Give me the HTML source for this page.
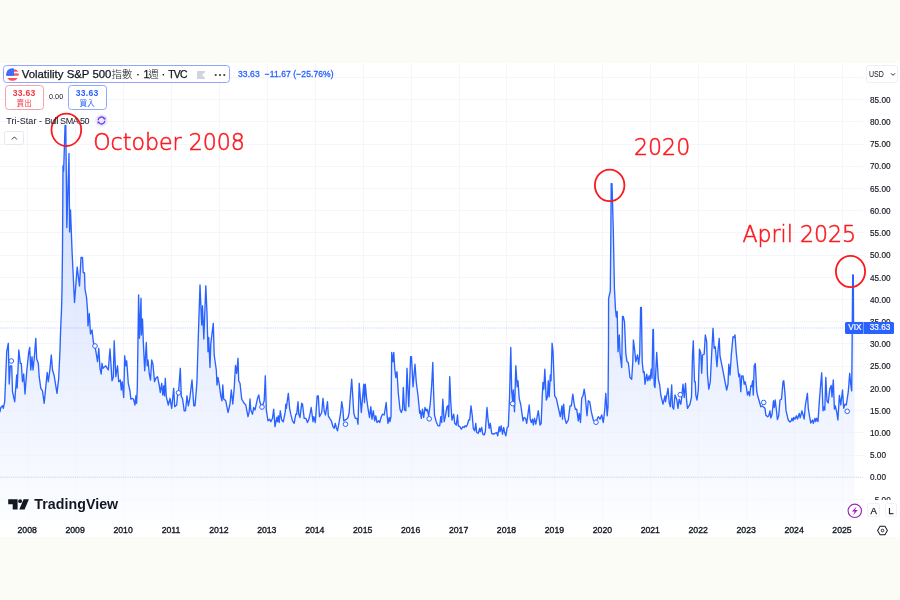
<!DOCTYPE html>
<html lang="zh-Hant">
<head>
<meta charset="utf-8">
<title>Volatility S&amp;P 500 Index - TradingView</title>
<style>
html,body{margin:0;padding:0;}
body{width:900px;height:600px;overflow:hidden;background:#fcfcf6;font-family:"Liberation Sans","Noto Sans CJK TC",sans-serif;color:#131722;position:relative;}
#pane{position:absolute;left:0;top:63px;width:900px;height:474px;background:#fff;overflow:hidden;}
#chart{position:absolute;left:0;top:-63px;width:900px;height:600px;}
.abs{position:absolute;}
.yl{position:absolute;left:870px;width:30px;height:10px;line-height:10px;font-size:8.2px;color:#131722;text-align:left;-webkit-text-stroke:0.15px #131722;}
.xl{position:absolute;top:524.5px;width:30px;height:11px;line-height:11px;font-size:8.7px;font-weight:400;-webkit-text-stroke:0.35px #131722;color:#131722;text-align:center;}
#title{position:absolute;left:2.7px;top:65px;width:225.5px;height:15.5px;border:1px solid #8fa6ff;border-radius:3.5px;background:#fff;}
#title .t{position:absolute;left:18px;top:0;height:15.5px;line-height:16px;font-size:11.4px;white-space:nowrap;color:#131722;-webkit-text-stroke:0.25px #131722;}
#title .cj{-webkit-text-stroke:0;font-weight:300;font-size:10.5px;}
#title .sp{font-size:11.4px;word-spacing:0.5px;}
#title .sp2{font-size:11.4px;word-spacing:-0.3px;}
#title .n1{font-size:10.6px;letter-spacing:-1.2px;}
#title .tv{font-size:10.4px;letter-spacing:-0.8px;}
.box{position:absolute;top:85px;width:37px;height:23px;border:1px solid;border-radius:3.5px;background:#fff;text-align:center;}
.box b{display:block;font-size:8.6px;line-height:9px;margin-top:3px;font-weight:700;letter-spacing:0.25px;}
.box span{display:block;font-size:7.6px;line-height:9px;margin-top:0.5px;}
.ann{position:absolute;color:#fb1a20;font-family:"DejaVu Sans","Liberation Sans",sans-serif;font-weight:200;font-size:22.1px;line-height:24px;white-space:nowrap;-webkit-text-stroke:0.55px #fb1a20;}
</style>
</head>
<body>
<div id="pane">
<svg id="chart" width="900" height="600" viewBox="0 0 900 600">
<defs>
<linearGradient id="ag" x1="0" y1="63" x2="0" y2="520" gradientUnits="userSpaceOnUse">
<stop offset="0" stop-color="#2962ff" stop-opacity="0.265"/>
<stop offset="1" stop-color="#2962ff" stop-opacity="0.012"/>
</linearGradient>
</defs>
<g stroke="#f5f6fb" stroke-width="1" shape-rendering="crispEdges">
<line x1="27.6" y1="63" x2="27.6" y2="520"/>
<line x1="75.5" y1="63" x2="75.5" y2="520"/>
<line x1="123.5" y1="63" x2="123.5" y2="520"/>
<line x1="171.4" y1="63" x2="171.4" y2="520"/>
<line x1="219.3" y1="63" x2="219.3" y2="520"/>
<line x1="267.2" y1="63" x2="267.2" y2="520"/>
<line x1="315.2" y1="63" x2="315.2" y2="520"/>
<line x1="363.1" y1="63" x2="363.1" y2="520"/>
<line x1="411.0" y1="63" x2="411.0" y2="520"/>
<line x1="459.0" y1="63" x2="459.0" y2="520"/>
<line x1="506.9" y1="63" x2="506.9" y2="520"/>
<line x1="554.8" y1="63" x2="554.8" y2="520"/>
<line x1="602.8" y1="63" x2="602.8" y2="520"/>
<line x1="650.7" y1="63" x2="650.7" y2="520"/>
<line x1="698.6" y1="63" x2="698.6" y2="520"/>
<line x1="746.6" y1="63" x2="746.6" y2="520"/>
<line x1="794.5" y1="63" x2="794.5" y2="520"/>
<line x1="842.4" y1="63" x2="842.4" y2="520"/>
<line x1="0" y1="499.4" x2="863" y2="499.4"/>
<line x1="0" y1="477.2" x2="863" y2="477.2"/>
<line x1="0" y1="455.0" x2="863" y2="455.0"/>
<line x1="0" y1="432.8" x2="863" y2="432.8"/>
<line x1="0" y1="410.6" x2="863" y2="410.6"/>
<line x1="0" y1="388.3" x2="863" y2="388.3"/>
<line x1="0" y1="366.1" x2="863" y2="366.1"/>
<line x1="0" y1="343.9" x2="863" y2="343.9"/>
<line x1="0" y1="321.7" x2="863" y2="321.7"/>
<line x1="0" y1="299.5" x2="863" y2="299.5"/>
<line x1="0" y1="277.3" x2="863" y2="277.3"/>
<line x1="0" y1="255.1" x2="863" y2="255.1"/>
<line x1="0" y1="232.8" x2="863" y2="232.8"/>
<line x1="0" y1="210.6" x2="863" y2="210.6"/>
<line x1="0" y1="188.4" x2="863" y2="188.4"/>
<line x1="0" y1="166.2" x2="863" y2="166.2"/>
<line x1="0" y1="144.0" x2="863" y2="144.0"/>
<line x1="0" y1="121.8" x2="863" y2="121.8"/>
<line x1="0" y1="99.5" x2="863" y2="99.5"/>
<line x1="0" y1="77.3" x2="863" y2="77.3"/>
</g>
<path d="M0.0 411.7 L0.8 407.5 L2.5 405.8 L3.3 408.3 L4.7 401.7 L6.7 351.7 L8.3 343.3 L9.2 384.0 L10.3 365.8 L11.7 365.8 L12.5 391.7 L14.7 401.7 L16.7 375.0 L17.2 388.0 L18.8 350.0 L20.3 363.3 L21.3 363.3 L22.5 381.7 L23.7 374.0 L25.0 394.0 L26.7 371.7 L28.7 352.5 L29.7 347.5 L30.8 370.0 L32.0 356.7 L33.0 370.0 L34.2 359.0 L35.8 338.3 L36.7 359.0 L38.3 363.3 L39.2 376.7 L40.8 388.3 L42.5 390.8 L44.2 403.3 L45.8 386.7 L47.2 372.5 L48.3 381.7 L50.0 369.0 L51.3 355.0 L52.5 370.0 L54.2 375.8 L57.0 393.3 L58.7 378.3 L60.0 350.0 L60.6 330.0 L61.5 310.0 L62.0 290.0 L62.5 250.0 L62.8 200.0 L63.0 166.0 L63.6 171.0 L65.1 125.3 L65.8 125.3 L66.8 227.5 L69.0 153.5 L69.6 232.0 L70.5 210.0 L72.0 250.0 L74.5 302.5 L77.2 267.0 L79.5 286.0 L81.0 257.5 L82.5 257.5 L83.2 272.5 L84.5 273.0 L85.0 289.0 L86.5 297.0 L87.5 310.0 L88.0 326.0 L89.3 313.5 L90.5 334.0 L92.0 330.0 L93.3 341.5 L93.9 344.0 L95.0 346.0 L97.5 361.7 L98.8 348.3 L100.0 368.3 L101.2 374.0 L102.0 363.3 L103.0 368.3 L105.8 365.8 L108.3 370.0 L110.0 349.0 L112.0 380.8 L113.3 377.5 L114.2 340.8 L115.8 376.7 L117.5 365.8 L118.7 381.7 L120.3 380.0 L121.3 390.0 L122.2 381.7 L123.7 397.5 L124.7 355.8 L125.8 365.8 L126.7 360.8 L128.3 383.3 L130.0 391.0 L130.8 399.0 L132.5 398.5 L133.5 399.0 L135.0 405.0 L135.9 395.8 L136.6 403.3 L137.3 388.0 L138.0 340.0 L138.6 295.0 L139.5 338.3 L141.0 298.3 L141.4 335.0 L142.5 319.0 L143.3 341.7 L144.7 370.8 L146.3 342.5 L147.2 365.8 L148.0 360.0 L149.2 373.3 L150.5 380.0 L151.7 360.0 L153.0 364.5 L154.5 381.7 L155.8 378.3 L157.5 376.7 L159.2 385.0 L160.3 392.5 L161.7 383.3 L162.8 395.0 L163.8 385.8 L164.5 395.8 L165.3 378.3 L166.3 396.7 L168.3 405.0 L170.0 398.3 L171.7 408.3 L173.7 388.3 L174.7 406.7 L176.7 405.0 L177.5 395.8 L178.5 392.8 L180.3 368.3 L181.3 396.7 L182.5 398.3 L184.2 410.8 L185.5 410.8 L187.0 395.8 L188.3 405.8 L189.7 399.0 L192.0 380.0 L193.8 405.8 L195.0 405.8 L196.3 390.8 L197.0 380.0 L198.3 336.7 L200.0 285.0 L201.7 325.0 L202.5 305.8 L203.8 339.0 L205.8 285.8 L207.0 313.3 L208.0 351.7 L208.7 337.5 L210.0 367.5 L210.8 343.3 L213.3 323.3 L214.2 355.0 L216.3 370.0 L217.0 385.0 L218.0 377.5 L219.2 384.0 L220.8 395.8 L222.0 400.8 L222.8 385.0 L223.7 399.0 L225.8 400.8 L228.0 412.5 L230.0 404.0 L231.3 390.0 L232.8 404.0 L234.2 388.3 L235.5 365.5 L236.7 373.3 L238.0 358.3 L238.7 380.8 L240.0 383.3 L241.7 399.0 L244.2 403.3 L245.8 405.0 L248.0 416.7 L249.2 411.7 L250.0 399.0 L250.8 410.0 L252.5 414.2 L253.7 407.5 L255.0 410.0 L257.5 398.3 L258.8 395.0 L260.0 402.5 L262.0 407.0 L264.2 400.8 L265.3 375.8 L266.3 410.0 L268.0 420.8 L269.7 419.2 L270.8 421.7 L272.5 418.3 L273.7 409.2 L275.0 426.7 L276.7 417.5 L277.5 421.7 L278.3 415.8 L279.2 422.5 L280.3 410.8 L281.7 420.0 L283.3 421.7 L285.3 411.7 L285.8 404.2 L286.3 408.3 L288.3 393.3 L289.7 409.2 L290.8 414.2 L292.5 420.8 L294.2 423.3 L295.8 414.2 L296.7 414.2 L298.0 401.7 L298.8 414.2 L300.0 417.5 L301.7 403.3 L302.5 404.2 L304.2 418.3 L305.8 418.3 L307.5 422.5 L309.2 418.3 L311.2 407.5 L313.0 421.7 L313.8 416.7 L315.3 422.5 L317.2 395.8 L318.3 395.8 L319.5 416.7 L321.7 412.5 L323.0 398.3 L324.2 410.8 L325.5 415.0 L327.5 401.7 L328.3 415.8 L329.7 418.3 L331.3 420.8 L333.0 426.7 L334.2 428.3 L335.3 423.3 L336.3 427.5 L337.5 430.8 L339.2 421.7 L340.8 411.7 L341.7 401.7 L342.8 408.3 L343.7 420.8 L346.7 419.2 L348.0 417.5 L349.2 412.5 L350.3 396.7 L351.7 379.2 L352.5 391.7 L353.8 413.3 L355.3 418.3 L357.0 418.3 L358.0 424.2 L359.2 383.3 L360.0 393.3 L361.3 412.5 L362.5 398.3 L363.8 384.2 L364.5 402.5 L365.3 384.2 L366.7 399.2 L368.0 408.3 L369.5 417.5 L370.8 406.7 L372.0 419.2 L373.3 410.8 L374.7 420.8 L375.8 415.8 L377.0 422.5 L378.7 420.8 L379.7 422.5 L381.3 416.7 L382.5 414.2 L384.2 415.0 L386.2 402.5 L387.2 416.7 L388.0 423.3 L389.2 417.5 L390.0 421.7 L391.0 416.7 L391.7 352.5 L393.0 361.7 L393.8 352.5 L394.7 368.3 L395.8 377.5 L397.0 371.7 L398.3 393.3 L400.0 409.2 L401.3 412.5 L402.5 409.2 L403.3 387.5 L404.5 410.0 L405.8 410.8 L407.0 368.3 L408.0 391.7 L408.8 406.7 L410.6 356.7 L411.5 356.7 L413.0 386.7 L415.0 364.2 L416.3 382.5 L418.0 395.5 L419.7 413.3 L420.3 410.8 L421.3 418.3 L422.5 409.2 L423.7 417.5 L425.0 407.5 L426.2 410.8 L427.2 409.2 L428.7 415.8 L430.3 403.3 L431.7 385.0 L432.8 362.5 L433.7 395.0 L434.5 415.0 L436.2 421.7 L438.0 425.8 L439.7 425.8 L440.8 416.7 L441.7 422.5 L442.8 399.2 L444.2 421.7 L445.3 416.7 L447.0 406.7 L448.0 405.8 L448.7 416.7 L449.7 376.7 L450.8 402.5 L452.0 420.0 L453.7 414.2 L454.7 423.3 L456.3 425.0 L457.5 415.0 L458.3 425.8 L460.0 426.7 L461.3 429.2 L463.0 426.7 L464.2 427.5 L465.0 425.8 L466.3 426.7 L467.5 424.2 L468.7 420.0 L469.7 420.0 L471.0 405.8 L472.2 415.0 L473.3 428.3 L474.7 430.8 L475.8 423.3 L476.7 432.5 L478.3 433.3 L479.7 428.3 L480.3 431.7 L481.7 427.5 L482.8 434.2 L484.2 435.0 L485.3 431.7 L487.0 407.5 L488.0 419.2 L489.2 428.3 L490.3 423.3 L491.7 433.3 L493.3 434.2 L495.0 433.3 L496.7 432.5 L497.7 435.8 L499.2 426.7 L500.0 431.7 L501.2 425.8 L502.5 434.2 L503.7 427.5 L504.5 431.7 L505.8 435.8 L507.2 427.5 L508.3 426.7 L509.5 398.3 L510.8 347.5 L511.7 391.7 L512.6 401.0 L513.3 390.0 L514.5 411.7 L515.8 365.8 L517.2 386.7 L518.0 380.8 L519.2 398.3 L520.8 405.0 L523.0 420.8 L524.2 417.5 L525.5 418.3 L526.7 423.3 L529.2 405.0 L530.3 419.2 L531.3 422.5 L532.5 419.2 L533.3 425.0 L534.5 418.3 L535.8 424.2 L537.0 417.5 L538.3 410.8 L540.0 425.0 L541.2 423.3 L542.2 396.7 L543.0 382.5 L543.8 389.2 L544.8 369.2 L546.3 400.0 L547.5 396.7 L548.3 380.8 L549.2 396.7 L550.3 375.0 L551.0 380.8 L552.1 343.3 L553.0 351.0 L553.8 373.3 L554.7 395.8 L556.3 398.3 L558.3 407.5 L560.3 416.7 L562.0 405.8 L562.5 419.2 L563.7 404.2 L564.7 417.5 L566.3 423.3 L568.3 420.0 L570.0 405.8 L571.3 405.8 L572.8 394.2 L574.2 404.2 L575.3 409.2 L576.7 409.2 L578.3 420.8 L579.2 413.3 L580.5 422.5 L581.7 398.3 L583.0 395.8 L584.2 389.2 L585.3 396.7 L587.0 415.8 L588.3 400.8 L589.7 401.7 L591.3 411.7 L593.3 420.0 L596.0 422.2 L597.5 418.3 L598.3 416.7 L600.0 419.2 L601.7 415.0 L603.3 422.5 L604.7 410.0 L605.8 393.3 L607.2 415.8 L608.0 406.7 L608.5 345.0 L608.6 298.5 L610.3 291.0 L610.8 240.0 L611.2 183.6 L612.0 183.6 L613.3 230.0 L614.4 288.0 L615.5 309.5 L616.3 317.0 L617.2 311.5 L618.0 351.7 L619.3 335.0 L620.0 353.3 L621.7 367.5 L622.5 316.5 L623.3 316.5 L624.5 322.0 L625.8 353.3 L627.0 361.7 L628.3 362.5 L630.0 377.5 L631.7 379.2 L632.8 361.7 L633.4 340.0 L634.5 348.3 L635.8 361.7 L637.5 355.0 L638.7 364.2 L639.7 354.2 L640.6 307.5 L641.4 307.5 L642.2 361.7 L643.3 372.5 L644.2 371.7 L645.0 384.2 L646.7 374.2 L647.8 380.8 L649.2 375.8 L650.0 380.0 L651.2 369.2 L652.0 378.3 L652.9 329.5 L653.4 329.5 L654.2 385.0 L655.0 387.5 L656.7 352.5 L658.3 379.2 L659.7 385.0 L660.8 395.0 L663.0 404.2 L665.0 395.8 L665.5 401.7 L668.0 388.3 L669.2 402.5 L670.3 406.7 L671.7 385.0 L672.5 406.7 L673.7 409.2 L675.0 395.0 L676.7 399.2 L678.0 408.3 L679.2 399.2 L680.8 404.2 L681.7 397.5 L683.0 384.2 L684.2 397.5 L685.5 383.3 L686.7 401.7 L687.5 408.3 L690.0 404.2 L691.5 397.0 L692.5 355.0 L693.3 340.8 L694.5 381.7 L695.3 381.7 L695.8 395.0 L697.0 400.0 L698.3 390.0 L699.5 349.2 L700.8 353.3 L701.7 373.3 L702.5 355.0 L704.2 354.2 L705.3 335.0 L706.7 341.7 L707.5 375.0 L708.8 389.2 L710.3 381.7 L711.7 353.3 L713.0 328.3 L714.2 348.3 L715.3 346.7 L717.0 366.7 L718.0 350.8 L719.2 338.3 L720.0 355.8 L722.5 368.3 L725.0 381.7 L726.7 390.0 L728.0 384.2 L728.8 364.2 L730.0 375.0 L731.3 355.0 L733.0 336.7 L734.0 337.5 L735.0 335.0 L736.3 353.3 L738.0 369.2 L738.8 376.7 L739.7 374.2 L740.8 391.7 L741.7 375.8 L743.0 375.8 L744.2 384.2 L745.0 381.7 L746.3 386.7 L747.5 395.0 L748.7 391.7 L749.7 395.8 L750.8 385.8 L751.7 386.5 L752.6 380.8 L753.3 395.0 L754.2 365.8 L755.3 363.5 L756.7 391.0 L757.5 395.0 L759.2 401.0 L760.8 406.7 L762.2 406.0 L765.0 408.3 L765.8 415.0 L767.5 416.7 L768.7 416.0 L770.0 411.0 L770.8 418.0 L772.1 414.0 L773.5 400.8 L774.3 407.5 L775.2 400.0 L776.5 411.0 L777.4 419.6 L778.7 415.8 L780.0 400.0 L781.5 399.2 L783.0 381.7 L783.8 380.8 L785.0 394.0 L786.0 410.4 L788.2 420.0 L790.0 422.0 L791.4 420.5 L792.0 418.3 L793.0 420.8 L793.8 417.5 L795.0 419.2 L796.4 415.8 L797.5 419.0 L799.2 413.5 L800.2 417.8 L801.9 411.0 L803.0 414.5 L804.2 419.0 L805.4 405.0 L807.4 393.3 L808.3 408.5 L809.6 416.7 L810.8 423.0 L812.5 420.0 L813.3 423.3 L815.0 418.3 L815.8 421.7 L816.7 418.3 L818.0 421.5 L819.2 403.3 L820.5 386.5 L821.7 372.8 L823.0 410.8 L824.2 406.7 L824.8 410.0 L825.8 377.5 L827.0 401.0 L828.2 403.0 L829.8 389.0 L831.2 385.5 L832.0 397.0 L833.3 380.0 L834.4 409.0 L835.3 405.8 L836.7 412.0 L837.9 420.0 L839.4 395.4 L840.8 405.0 L842.5 390.0 L843.7 408.3 L845.0 404.2 L846.3 405.0 L848.3 391.7 L849.7 373.3 L850.8 385.0 L851.7 390.8 L852.7 275.0 L853.3 275.0 L853.6 328.0 L854.5 328 L854.5 520 L0 520 Z" fill="#fff" fill-opacity="0.55" stroke="none"/>
<path d="M0.0 411.7 L0.8 407.5 L2.5 405.8 L3.3 408.3 L4.7 401.7 L6.7 351.7 L8.3 343.3 L9.2 384.0 L10.3 365.8 L11.7 365.8 L12.5 391.7 L14.7 401.7 L16.7 375.0 L17.2 388.0 L18.8 350.0 L20.3 363.3 L21.3 363.3 L22.5 381.7 L23.7 374.0 L25.0 394.0 L26.7 371.7 L28.7 352.5 L29.7 347.5 L30.8 370.0 L32.0 356.7 L33.0 370.0 L34.2 359.0 L35.8 338.3 L36.7 359.0 L38.3 363.3 L39.2 376.7 L40.8 388.3 L42.5 390.8 L44.2 403.3 L45.8 386.7 L47.2 372.5 L48.3 381.7 L50.0 369.0 L51.3 355.0 L52.5 370.0 L54.2 375.8 L57.0 393.3 L58.7 378.3 L60.0 350.0 L60.6 330.0 L61.5 310.0 L62.0 290.0 L62.5 250.0 L62.8 200.0 L63.0 166.0 L63.6 171.0 L65.1 125.3 L65.8 125.3 L66.8 227.5 L69.0 153.5 L69.6 232.0 L70.5 210.0 L72.0 250.0 L74.5 302.5 L77.2 267.0 L79.5 286.0 L81.0 257.5 L82.5 257.5 L83.2 272.5 L84.5 273.0 L85.0 289.0 L86.5 297.0 L87.5 310.0 L88.0 326.0 L89.3 313.5 L90.5 334.0 L92.0 330.0 L93.3 341.5 L93.9 344.0 L95.0 346.0 L97.5 361.7 L98.8 348.3 L100.0 368.3 L101.2 374.0 L102.0 363.3 L103.0 368.3 L105.8 365.8 L108.3 370.0 L110.0 349.0 L112.0 380.8 L113.3 377.5 L114.2 340.8 L115.8 376.7 L117.5 365.8 L118.7 381.7 L120.3 380.0 L121.3 390.0 L122.2 381.7 L123.7 397.5 L124.7 355.8 L125.8 365.8 L126.7 360.8 L128.3 383.3 L130.0 391.0 L130.8 399.0 L132.5 398.5 L133.5 399.0 L135.0 405.0 L135.9 395.8 L136.6 403.3 L137.3 388.0 L138.0 340.0 L138.6 295.0 L139.5 338.3 L141.0 298.3 L141.4 335.0 L142.5 319.0 L143.3 341.7 L144.7 370.8 L146.3 342.5 L147.2 365.8 L148.0 360.0 L149.2 373.3 L150.5 380.0 L151.7 360.0 L153.0 364.5 L154.5 381.7 L155.8 378.3 L157.5 376.7 L159.2 385.0 L160.3 392.5 L161.7 383.3 L162.8 395.0 L163.8 385.8 L164.5 395.8 L165.3 378.3 L166.3 396.7 L168.3 405.0 L170.0 398.3 L171.7 408.3 L173.7 388.3 L174.7 406.7 L176.7 405.0 L177.5 395.8 L178.5 392.8 L180.3 368.3 L181.3 396.7 L182.5 398.3 L184.2 410.8 L185.5 410.8 L187.0 395.8 L188.3 405.8 L189.7 399.0 L192.0 380.0 L193.8 405.8 L195.0 405.8 L196.3 390.8 L197.0 380.0 L198.3 336.7 L200.0 285.0 L201.7 325.0 L202.5 305.8 L203.8 339.0 L205.8 285.8 L207.0 313.3 L208.0 351.7 L208.7 337.5 L210.0 367.5 L210.8 343.3 L213.3 323.3 L214.2 355.0 L216.3 370.0 L217.0 385.0 L218.0 377.5 L219.2 384.0 L220.8 395.8 L222.0 400.8 L222.8 385.0 L223.7 399.0 L225.8 400.8 L228.0 412.5 L230.0 404.0 L231.3 390.0 L232.8 404.0 L234.2 388.3 L235.5 365.5 L236.7 373.3 L238.0 358.3 L238.7 380.8 L240.0 383.3 L241.7 399.0 L244.2 403.3 L245.8 405.0 L248.0 416.7 L249.2 411.7 L250.0 399.0 L250.8 410.0 L252.5 414.2 L253.7 407.5 L255.0 410.0 L257.5 398.3 L258.8 395.0 L260.0 402.5 L262.0 407.0 L264.2 400.8 L265.3 375.8 L266.3 410.0 L268.0 420.8 L269.7 419.2 L270.8 421.7 L272.5 418.3 L273.7 409.2 L275.0 426.7 L276.7 417.5 L277.5 421.7 L278.3 415.8 L279.2 422.5 L280.3 410.8 L281.7 420.0 L283.3 421.7 L285.3 411.7 L285.8 404.2 L286.3 408.3 L288.3 393.3 L289.7 409.2 L290.8 414.2 L292.5 420.8 L294.2 423.3 L295.8 414.2 L296.7 414.2 L298.0 401.7 L298.8 414.2 L300.0 417.5 L301.7 403.3 L302.5 404.2 L304.2 418.3 L305.8 418.3 L307.5 422.5 L309.2 418.3 L311.2 407.5 L313.0 421.7 L313.8 416.7 L315.3 422.5 L317.2 395.8 L318.3 395.8 L319.5 416.7 L321.7 412.5 L323.0 398.3 L324.2 410.8 L325.5 415.0 L327.5 401.7 L328.3 415.8 L329.7 418.3 L331.3 420.8 L333.0 426.7 L334.2 428.3 L335.3 423.3 L336.3 427.5 L337.5 430.8 L339.2 421.7 L340.8 411.7 L341.7 401.7 L342.8 408.3 L343.7 420.8 L346.7 419.2 L348.0 417.5 L349.2 412.5 L350.3 396.7 L351.7 379.2 L352.5 391.7 L353.8 413.3 L355.3 418.3 L357.0 418.3 L358.0 424.2 L359.2 383.3 L360.0 393.3 L361.3 412.5 L362.5 398.3 L363.8 384.2 L364.5 402.5 L365.3 384.2 L366.7 399.2 L368.0 408.3 L369.5 417.5 L370.8 406.7 L372.0 419.2 L373.3 410.8 L374.7 420.8 L375.8 415.8 L377.0 422.5 L378.7 420.8 L379.7 422.5 L381.3 416.7 L382.5 414.2 L384.2 415.0 L386.2 402.5 L387.2 416.7 L388.0 423.3 L389.2 417.5 L390.0 421.7 L391.0 416.7 L391.7 352.5 L393.0 361.7 L393.8 352.5 L394.7 368.3 L395.8 377.5 L397.0 371.7 L398.3 393.3 L400.0 409.2 L401.3 412.5 L402.5 409.2 L403.3 387.5 L404.5 410.0 L405.8 410.8 L407.0 368.3 L408.0 391.7 L408.8 406.7 L410.6 356.7 L411.5 356.7 L413.0 386.7 L415.0 364.2 L416.3 382.5 L418.0 395.5 L419.7 413.3 L420.3 410.8 L421.3 418.3 L422.5 409.2 L423.7 417.5 L425.0 407.5 L426.2 410.8 L427.2 409.2 L428.7 415.8 L430.3 403.3 L431.7 385.0 L432.8 362.5 L433.7 395.0 L434.5 415.0 L436.2 421.7 L438.0 425.8 L439.7 425.8 L440.8 416.7 L441.7 422.5 L442.8 399.2 L444.2 421.7 L445.3 416.7 L447.0 406.7 L448.0 405.8 L448.7 416.7 L449.7 376.7 L450.8 402.5 L452.0 420.0 L453.7 414.2 L454.7 423.3 L456.3 425.0 L457.5 415.0 L458.3 425.8 L460.0 426.7 L461.3 429.2 L463.0 426.7 L464.2 427.5 L465.0 425.8 L466.3 426.7 L467.5 424.2 L468.7 420.0 L469.7 420.0 L471.0 405.8 L472.2 415.0 L473.3 428.3 L474.7 430.8 L475.8 423.3 L476.7 432.5 L478.3 433.3 L479.7 428.3 L480.3 431.7 L481.7 427.5 L482.8 434.2 L484.2 435.0 L485.3 431.7 L487.0 407.5 L488.0 419.2 L489.2 428.3 L490.3 423.3 L491.7 433.3 L493.3 434.2 L495.0 433.3 L496.7 432.5 L497.7 435.8 L499.2 426.7 L500.0 431.7 L501.2 425.8 L502.5 434.2 L503.7 427.5 L504.5 431.7 L505.8 435.8 L507.2 427.5 L508.3 426.7 L509.5 398.3 L510.8 347.5 L511.7 391.7 L512.6 401.0 L513.3 390.0 L514.5 411.7 L515.8 365.8 L517.2 386.7 L518.0 380.8 L519.2 398.3 L520.8 405.0 L523.0 420.8 L524.2 417.5 L525.5 418.3 L526.7 423.3 L529.2 405.0 L530.3 419.2 L531.3 422.5 L532.5 419.2 L533.3 425.0 L534.5 418.3 L535.8 424.2 L537.0 417.5 L538.3 410.8 L540.0 425.0 L541.2 423.3 L542.2 396.7 L543.0 382.5 L543.8 389.2 L544.8 369.2 L546.3 400.0 L547.5 396.7 L548.3 380.8 L549.2 396.7 L550.3 375.0 L551.0 380.8 L552.1 343.3 L553.0 351.0 L553.8 373.3 L554.7 395.8 L556.3 398.3 L558.3 407.5 L560.3 416.7 L562.0 405.8 L562.5 419.2 L563.7 404.2 L564.7 417.5 L566.3 423.3 L568.3 420.0 L570.0 405.8 L571.3 405.8 L572.8 394.2 L574.2 404.2 L575.3 409.2 L576.7 409.2 L578.3 420.8 L579.2 413.3 L580.5 422.5 L581.7 398.3 L583.0 395.8 L584.2 389.2 L585.3 396.7 L587.0 415.8 L588.3 400.8 L589.7 401.7 L591.3 411.7 L593.3 420.0 L596.0 422.2 L597.5 418.3 L598.3 416.7 L600.0 419.2 L601.7 415.0 L603.3 422.5 L604.7 410.0 L605.8 393.3 L607.2 415.8 L608.0 406.7 L608.5 345.0 L608.6 298.5 L610.3 291.0 L610.8 240.0 L611.2 183.6 L612.0 183.6 L613.3 230.0 L614.4 288.0 L615.5 309.5 L616.3 317.0 L617.2 311.5 L618.0 351.7 L619.3 335.0 L620.0 353.3 L621.7 367.5 L622.5 316.5 L623.3 316.5 L624.5 322.0 L625.8 353.3 L627.0 361.7 L628.3 362.5 L630.0 377.5 L631.7 379.2 L632.8 361.7 L633.4 340.0 L634.5 348.3 L635.8 361.7 L637.5 355.0 L638.7 364.2 L639.7 354.2 L640.6 307.5 L641.4 307.5 L642.2 361.7 L643.3 372.5 L644.2 371.7 L645.0 384.2 L646.7 374.2 L647.8 380.8 L649.2 375.8 L650.0 380.0 L651.2 369.2 L652.0 378.3 L652.9 329.5 L653.4 329.5 L654.2 385.0 L655.0 387.5 L656.7 352.5 L658.3 379.2 L659.7 385.0 L660.8 395.0 L663.0 404.2 L665.0 395.8 L665.5 401.7 L668.0 388.3 L669.2 402.5 L670.3 406.7 L671.7 385.0 L672.5 406.7 L673.7 409.2 L675.0 395.0 L676.7 399.2 L678.0 408.3 L679.2 399.2 L680.8 404.2 L681.7 397.5 L683.0 384.2 L684.2 397.5 L685.5 383.3 L686.7 401.7 L687.5 408.3 L690.0 404.2 L691.5 397.0 L692.5 355.0 L693.3 340.8 L694.5 381.7 L695.3 381.7 L695.8 395.0 L697.0 400.0 L698.3 390.0 L699.5 349.2 L700.8 353.3 L701.7 373.3 L702.5 355.0 L704.2 354.2 L705.3 335.0 L706.7 341.7 L707.5 375.0 L708.8 389.2 L710.3 381.7 L711.7 353.3 L713.0 328.3 L714.2 348.3 L715.3 346.7 L717.0 366.7 L718.0 350.8 L719.2 338.3 L720.0 355.8 L722.5 368.3 L725.0 381.7 L726.7 390.0 L728.0 384.2 L728.8 364.2 L730.0 375.0 L731.3 355.0 L733.0 336.7 L734.0 337.5 L735.0 335.0 L736.3 353.3 L738.0 369.2 L738.8 376.7 L739.7 374.2 L740.8 391.7 L741.7 375.8 L743.0 375.8 L744.2 384.2 L745.0 381.7 L746.3 386.7 L747.5 395.0 L748.7 391.7 L749.7 395.8 L750.8 385.8 L751.7 386.5 L752.6 380.8 L753.3 395.0 L754.2 365.8 L755.3 363.5 L756.7 391.0 L757.5 395.0 L759.2 401.0 L760.8 406.7 L762.2 406.0 L765.0 408.3 L765.8 415.0 L767.5 416.7 L768.7 416.0 L770.0 411.0 L770.8 418.0 L772.1 414.0 L773.5 400.8 L774.3 407.5 L775.2 400.0 L776.5 411.0 L777.4 419.6 L778.7 415.8 L780.0 400.0 L781.5 399.2 L783.0 381.7 L783.8 380.8 L785.0 394.0 L786.0 410.4 L788.2 420.0 L790.0 422.0 L791.4 420.5 L792.0 418.3 L793.0 420.8 L793.8 417.5 L795.0 419.2 L796.4 415.8 L797.5 419.0 L799.2 413.5 L800.2 417.8 L801.9 411.0 L803.0 414.5 L804.2 419.0 L805.4 405.0 L807.4 393.3 L808.3 408.5 L809.6 416.7 L810.8 423.0 L812.5 420.0 L813.3 423.3 L815.0 418.3 L815.8 421.7 L816.7 418.3 L818.0 421.5 L819.2 403.3 L820.5 386.5 L821.7 372.8 L823.0 410.8 L824.2 406.7 L824.8 410.0 L825.8 377.5 L827.0 401.0 L828.2 403.0 L829.8 389.0 L831.2 385.5 L832.0 397.0 L833.3 380.0 L834.4 409.0 L835.3 405.8 L836.7 412.0 L837.9 420.0 L839.4 395.4 L840.8 405.0 L842.5 390.0 L843.7 408.3 L845.0 404.2 L846.3 405.0 L848.3 391.7 L849.7 373.3 L850.8 385.0 L851.7 390.8 L852.7 275.0 L853.3 275.0 L853.6 328.0 L854.5 328 L854.5 520 L0 520 Z" fill="url(#ag)" stroke="none"/>
<line x1="0" y1="328" x2="845" y2="328" stroke="#2962ff" stroke-opacity="0.32" stroke-width="1" stroke-dasharray="1 1.2"/>
<line x1="0" y1="477.2" x2="863" y2="477.2" stroke="#9fb0ea" stroke-opacity="0.55" stroke-width="1" stroke-dasharray="1 1.2"/>
<path d="M0.0 411.7 L0.8 407.5 L2.5 405.8 L3.3 408.3 L4.7 401.7 L6.7 351.7 L8.3 343.3 L9.2 384.0 L10.3 365.8 L11.7 365.8 L12.5 391.7 L14.7 401.7 L16.7 375.0 L17.2 388.0 L18.8 350.0 L20.3 363.3 L21.3 363.3 L22.5 381.7 L23.7 374.0 L25.0 394.0 L26.7 371.7 L28.7 352.5 L29.7 347.5 L30.8 370.0 L32.0 356.7 L33.0 370.0 L34.2 359.0 L35.8 338.3 L36.7 359.0 L38.3 363.3 L39.2 376.7 L40.8 388.3 L42.5 390.8 L44.2 403.3 L45.8 386.7 L47.2 372.5 L48.3 381.7 L50.0 369.0 L51.3 355.0 L52.5 370.0 L54.2 375.8 L57.0 393.3 L58.7 378.3 L60.0 350.0 L60.6 330.0 L61.5 310.0 L62.0 290.0 L62.5 250.0 L62.8 200.0 L63.0 166.0 L63.6 171.0 L65.1 125.3 L65.8 125.3 L66.8 227.5 L69.0 153.5 L69.6 232.0 L70.5 210.0 L72.0 250.0 L74.5 302.5 L77.2 267.0 L79.5 286.0 L81.0 257.5 L82.5 257.5 L83.2 272.5 L84.5 273.0 L85.0 289.0 L86.5 297.0 L87.5 310.0 L88.0 326.0 L89.3 313.5 L90.5 334.0 L92.0 330.0 L93.3 341.5 L93.9 344.0 L95.0 346.0 L97.5 361.7 L98.8 348.3 L100.0 368.3 L101.2 374.0 L102.0 363.3 L103.0 368.3 L105.8 365.8 L108.3 370.0 L110.0 349.0 L112.0 380.8 L113.3 377.5 L114.2 340.8 L115.8 376.7 L117.5 365.8 L118.7 381.7 L120.3 380.0 L121.3 390.0 L122.2 381.7 L123.7 397.5 L124.7 355.8 L125.8 365.8 L126.7 360.8 L128.3 383.3 L130.0 391.0 L130.8 399.0 L132.5 398.5 L133.5 399.0 L135.0 405.0 L135.9 395.8 L136.6 403.3 L137.3 388.0 L138.0 340.0 L138.6 295.0 L139.5 338.3 L141.0 298.3 L141.4 335.0 L142.5 319.0 L143.3 341.7 L144.7 370.8 L146.3 342.5 L147.2 365.8 L148.0 360.0 L149.2 373.3 L150.5 380.0 L151.7 360.0 L153.0 364.5 L154.5 381.7 L155.8 378.3 L157.5 376.7 L159.2 385.0 L160.3 392.5 L161.7 383.3 L162.8 395.0 L163.8 385.8 L164.5 395.8 L165.3 378.3 L166.3 396.7 L168.3 405.0 L170.0 398.3 L171.7 408.3 L173.7 388.3 L174.7 406.7 L176.7 405.0 L177.5 395.8 L178.5 392.8 L180.3 368.3 L181.3 396.7 L182.5 398.3 L184.2 410.8 L185.5 410.8 L187.0 395.8 L188.3 405.8 L189.7 399.0 L192.0 380.0 L193.8 405.8 L195.0 405.8 L196.3 390.8 L197.0 380.0 L198.3 336.7 L200.0 285.0 L201.7 325.0 L202.5 305.8 L203.8 339.0 L205.8 285.8 L207.0 313.3 L208.0 351.7 L208.7 337.5 L210.0 367.5 L210.8 343.3 L213.3 323.3 L214.2 355.0 L216.3 370.0 L217.0 385.0 L218.0 377.5 L219.2 384.0 L220.8 395.8 L222.0 400.8 L222.8 385.0 L223.7 399.0 L225.8 400.8 L228.0 412.5 L230.0 404.0 L231.3 390.0 L232.8 404.0 L234.2 388.3 L235.5 365.5 L236.7 373.3 L238.0 358.3 L238.7 380.8 L240.0 383.3 L241.7 399.0 L244.2 403.3 L245.8 405.0 L248.0 416.7 L249.2 411.7 L250.0 399.0 L250.8 410.0 L252.5 414.2 L253.7 407.5 L255.0 410.0 L257.5 398.3 L258.8 395.0 L260.0 402.5 L262.0 407.0 L264.2 400.8 L265.3 375.8 L266.3 410.0 L268.0 420.8 L269.7 419.2 L270.8 421.7 L272.5 418.3 L273.7 409.2 L275.0 426.7 L276.7 417.5 L277.5 421.7 L278.3 415.8 L279.2 422.5 L280.3 410.8 L281.7 420.0 L283.3 421.7 L285.3 411.7 L285.8 404.2 L286.3 408.3 L288.3 393.3 L289.7 409.2 L290.8 414.2 L292.5 420.8 L294.2 423.3 L295.8 414.2 L296.7 414.2 L298.0 401.7 L298.8 414.2 L300.0 417.5 L301.7 403.3 L302.5 404.2 L304.2 418.3 L305.8 418.3 L307.5 422.5 L309.2 418.3 L311.2 407.5 L313.0 421.7 L313.8 416.7 L315.3 422.5 L317.2 395.8 L318.3 395.8 L319.5 416.7 L321.7 412.5 L323.0 398.3 L324.2 410.8 L325.5 415.0 L327.5 401.7 L328.3 415.8 L329.7 418.3 L331.3 420.8 L333.0 426.7 L334.2 428.3 L335.3 423.3 L336.3 427.5 L337.5 430.8 L339.2 421.7 L340.8 411.7 L341.7 401.7 L342.8 408.3 L343.7 420.8 L346.7 419.2 L348.0 417.5 L349.2 412.5 L350.3 396.7 L351.7 379.2 L352.5 391.7 L353.8 413.3 L355.3 418.3 L357.0 418.3 L358.0 424.2 L359.2 383.3 L360.0 393.3 L361.3 412.5 L362.5 398.3 L363.8 384.2 L364.5 402.5 L365.3 384.2 L366.7 399.2 L368.0 408.3 L369.5 417.5 L370.8 406.7 L372.0 419.2 L373.3 410.8 L374.7 420.8 L375.8 415.8 L377.0 422.5 L378.7 420.8 L379.7 422.5 L381.3 416.7 L382.5 414.2 L384.2 415.0 L386.2 402.5 L387.2 416.7 L388.0 423.3 L389.2 417.5 L390.0 421.7 L391.0 416.7 L391.7 352.5 L393.0 361.7 L393.8 352.5 L394.7 368.3 L395.8 377.5 L397.0 371.7 L398.3 393.3 L400.0 409.2 L401.3 412.5 L402.5 409.2 L403.3 387.5 L404.5 410.0 L405.8 410.8 L407.0 368.3 L408.0 391.7 L408.8 406.7 L410.6 356.7 L411.5 356.7 L413.0 386.7 L415.0 364.2 L416.3 382.5 L418.0 395.5 L419.7 413.3 L420.3 410.8 L421.3 418.3 L422.5 409.2 L423.7 417.5 L425.0 407.5 L426.2 410.8 L427.2 409.2 L428.7 415.8 L430.3 403.3 L431.7 385.0 L432.8 362.5 L433.7 395.0 L434.5 415.0 L436.2 421.7 L438.0 425.8 L439.7 425.8 L440.8 416.7 L441.7 422.5 L442.8 399.2 L444.2 421.7 L445.3 416.7 L447.0 406.7 L448.0 405.8 L448.7 416.7 L449.7 376.7 L450.8 402.5 L452.0 420.0 L453.7 414.2 L454.7 423.3 L456.3 425.0 L457.5 415.0 L458.3 425.8 L460.0 426.7 L461.3 429.2 L463.0 426.7 L464.2 427.5 L465.0 425.8 L466.3 426.7 L467.5 424.2 L468.7 420.0 L469.7 420.0 L471.0 405.8 L472.2 415.0 L473.3 428.3 L474.7 430.8 L475.8 423.3 L476.7 432.5 L478.3 433.3 L479.7 428.3 L480.3 431.7 L481.7 427.5 L482.8 434.2 L484.2 435.0 L485.3 431.7 L487.0 407.5 L488.0 419.2 L489.2 428.3 L490.3 423.3 L491.7 433.3 L493.3 434.2 L495.0 433.3 L496.7 432.5 L497.7 435.8 L499.2 426.7 L500.0 431.7 L501.2 425.8 L502.5 434.2 L503.7 427.5 L504.5 431.7 L505.8 435.8 L507.2 427.5 L508.3 426.7 L509.5 398.3 L510.8 347.5 L511.7 391.7 L512.6 401.0 L513.3 390.0 L514.5 411.7 L515.8 365.8 L517.2 386.7 L518.0 380.8 L519.2 398.3 L520.8 405.0 L523.0 420.8 L524.2 417.5 L525.5 418.3 L526.7 423.3 L529.2 405.0 L530.3 419.2 L531.3 422.5 L532.5 419.2 L533.3 425.0 L534.5 418.3 L535.8 424.2 L537.0 417.5 L538.3 410.8 L540.0 425.0 L541.2 423.3 L542.2 396.7 L543.0 382.5 L543.8 389.2 L544.8 369.2 L546.3 400.0 L547.5 396.7 L548.3 380.8 L549.2 396.7 L550.3 375.0 L551.0 380.8 L552.1 343.3 L553.0 351.0 L553.8 373.3 L554.7 395.8 L556.3 398.3 L558.3 407.5 L560.3 416.7 L562.0 405.8 L562.5 419.2 L563.7 404.2 L564.7 417.5 L566.3 423.3 L568.3 420.0 L570.0 405.8 L571.3 405.8 L572.8 394.2 L574.2 404.2 L575.3 409.2 L576.7 409.2 L578.3 420.8 L579.2 413.3 L580.5 422.5 L581.7 398.3 L583.0 395.8 L584.2 389.2 L585.3 396.7 L587.0 415.8 L588.3 400.8 L589.7 401.7 L591.3 411.7 L593.3 420.0 L596.0 422.2 L597.5 418.3 L598.3 416.7 L600.0 419.2 L601.7 415.0 L603.3 422.5 L604.7 410.0 L605.8 393.3 L607.2 415.8 L608.0 406.7 L608.5 345.0 L608.6 298.5 L610.3 291.0 L610.8 240.0 L611.2 183.6 L612.0 183.6 L613.3 230.0 L614.4 288.0 L615.5 309.5 L616.3 317.0 L617.2 311.5 L618.0 351.7 L619.3 335.0 L620.0 353.3 L621.7 367.5 L622.5 316.5 L623.3 316.5 L624.5 322.0 L625.8 353.3 L627.0 361.7 L628.3 362.5 L630.0 377.5 L631.7 379.2 L632.8 361.7 L633.4 340.0 L634.5 348.3 L635.8 361.7 L637.5 355.0 L638.7 364.2 L639.7 354.2 L640.6 307.5 L641.4 307.5 L642.2 361.7 L643.3 372.5 L644.2 371.7 L645.0 384.2 L646.7 374.2 L647.8 380.8 L649.2 375.8 L650.0 380.0 L651.2 369.2 L652.0 378.3 L652.9 329.5 L653.4 329.5 L654.2 385.0 L655.0 387.5 L656.7 352.5 L658.3 379.2 L659.7 385.0 L660.8 395.0 L663.0 404.2 L665.0 395.8 L665.5 401.7 L668.0 388.3 L669.2 402.5 L670.3 406.7 L671.7 385.0 L672.5 406.7 L673.7 409.2 L675.0 395.0 L676.7 399.2 L678.0 408.3 L679.2 399.2 L680.8 404.2 L681.7 397.5 L683.0 384.2 L684.2 397.5 L685.5 383.3 L686.7 401.7 L687.5 408.3 L690.0 404.2 L691.5 397.0 L692.5 355.0 L693.3 340.8 L694.5 381.7 L695.3 381.7 L695.8 395.0 L697.0 400.0 L698.3 390.0 L699.5 349.2 L700.8 353.3 L701.7 373.3 L702.5 355.0 L704.2 354.2 L705.3 335.0 L706.7 341.7 L707.5 375.0 L708.8 389.2 L710.3 381.7 L711.7 353.3 L713.0 328.3 L714.2 348.3 L715.3 346.7 L717.0 366.7 L718.0 350.8 L719.2 338.3 L720.0 355.8 L722.5 368.3 L725.0 381.7 L726.7 390.0 L728.0 384.2 L728.8 364.2 L730.0 375.0 L731.3 355.0 L733.0 336.7 L734.0 337.5 L735.0 335.0 L736.3 353.3 L738.0 369.2 L738.8 376.7 L739.7 374.2 L740.8 391.7 L741.7 375.8 L743.0 375.8 L744.2 384.2 L745.0 381.7 L746.3 386.7 L747.5 395.0 L748.7 391.7 L749.7 395.8 L750.8 385.8 L751.7 386.5 L752.6 380.8 L753.3 395.0 L754.2 365.8 L755.3 363.5 L756.7 391.0 L757.5 395.0 L759.2 401.0 L760.8 406.7 L762.2 406.0 L765.0 408.3 L765.8 415.0 L767.5 416.7 L768.7 416.0 L770.0 411.0 L770.8 418.0 L772.1 414.0 L773.5 400.8 L774.3 407.5 L775.2 400.0 L776.5 411.0 L777.4 419.6 L778.7 415.8 L780.0 400.0 L781.5 399.2 L783.0 381.7 L783.8 380.8 L785.0 394.0 L786.0 410.4 L788.2 420.0 L790.0 422.0 L791.4 420.5 L792.0 418.3 L793.0 420.8 L793.8 417.5 L795.0 419.2 L796.4 415.8 L797.5 419.0 L799.2 413.5 L800.2 417.8 L801.9 411.0 L803.0 414.5 L804.2 419.0 L805.4 405.0 L807.4 393.3 L808.3 408.5 L809.6 416.7 L810.8 423.0 L812.5 420.0 L813.3 423.3 L815.0 418.3 L815.8 421.7 L816.7 418.3 L818.0 421.5 L819.2 403.3 L820.5 386.5 L821.7 372.8 L823.0 410.8 L824.2 406.7 L824.8 410.0 L825.8 377.5 L827.0 401.0 L828.2 403.0 L829.8 389.0 L831.2 385.5 L832.0 397.0 L833.3 380.0 L834.4 409.0 L835.3 405.8 L836.7 412.0 L837.9 420.0 L839.4 395.4 L840.8 405.0 L842.5 390.0 L843.7 408.3 L845.0 404.2 L846.3 405.0 L848.3 391.7 L849.7 373.3 L850.8 385.0 L851.7 390.8 L852.7 275.0 L853.3 275.0 L853.6 328.0" fill="none" stroke="#2962ff" stroke-width="1.35" stroke-linejoin="round" stroke-linecap="round"/>
<g fill="#fff" stroke="#2962ff" stroke-width="1">
<circle cx="11.3" cy="361.0" r="2.3"/>
<circle cx="95.0" cy="346.0" r="2.3"/>
<circle cx="178.5" cy="392.8" r="2.3"/>
<circle cx="262.0" cy="407.0" r="2.3"/>
<circle cx="345.5" cy="424.2" r="2.3"/>
<circle cx="429.2" cy="418.8" r="2.3"/>
<circle cx="512.7" cy="403.7" r="2.3"/>
<circle cx="596.0" cy="422.2" r="2.3"/>
<circle cx="680.2" cy="394.7" r="2.3"/>
<circle cx="763.7" cy="402.5" r="2.3"/>
<circle cx="847.2" cy="411.3" r="2.3"/>
</g>
<g fill="none" stroke="#fb1a20" stroke-width="1.8">
<ellipse cx="66.35" cy="129.8" rx="14.85" ry="16.2"/>
<ellipse cx="609.65" cy="185.35" rx="14.75" ry="15.8"/>
<ellipse cx="850.5" cy="271.5" rx="14.6" ry="15.6"/>
</g>
</svg>
</div>

<!-- price axis labels -->
<div class="yl" style="top:473.4px">0.00</div>
<div class="yl" style="top:451.2px">5.00</div>
<div class="yl" style="top:429.0px">10.00</div>
<div class="yl" style="top:406.8px">15.00</div>
<div class="yl" style="top:384.5px">20.00</div>
<div class="yl" style="top:362.3px">25.00</div>
<div class="yl" style="top:340.1px">30.00</div>
<div class="yl" style="top:317.9px">35.00</div>
<div class="yl" style="top:295.7px">40.00</div>
<div class="yl" style="top:273.5px">45.00</div>
<div class="yl" style="top:251.2px">50.00</div>
<div class="yl" style="top:229.0px">55.00</div>
<div class="yl" style="top:206.8px">60.00</div>
<div class="yl" style="top:184.6px">65.00</div>
<div class="yl" style="top:162.4px">70.00</div>
<div class="yl" style="top:140.2px">75.00</div>
<div class="yl" style="top:118.0px">80.00</div>
<div class="yl" style="top:95.7px">85.00</div>
<div class="abs" style="left:866px;top:500px;width:34px;height:20px;background:#fff"></div>
<div class="yl" style="top:495.6px;height:4.2px;overflow:hidden">−5.00</div>

<!-- time axis labels -->
<div class="xl" style="left:12.2px">2008</div>
<div class="xl" style="left:60.1px">2009</div>
<div class="xl" style="left:108.1px">2010</div>
<div class="xl" style="left:156.0px">2011</div>
<div class="xl" style="left:203.9px">2012</div>
<div class="xl" style="left:251.8px">2013</div>
<div class="xl" style="left:299.8px">2014</div>
<div class="xl" style="left:347.7px">2015</div>
<div class="xl" style="left:395.6px">2016</div>
<div class="xl" style="left:443.6px">2017</div>
<div class="xl" style="left:491.5px">2018</div>
<div class="xl" style="left:539.4px">2019</div>
<div class="xl" style="left:587.4px">2020</div>
<div class="xl" style="left:635.3px">2021</div>
<div class="xl" style="left:683.2px">2022</div>
<div class="xl" style="left:731.2px">2023</div>
<div class="xl" style="left:779.1px">2024</div>
<div class="xl" style="left:827.0px">2025</div>

<!-- last price label -->
<div class="abs" style="left:844.5px;top:321.8px;width:49.3px;height:12.4px;background:#2962ff;border-radius:1.5px;"></div>
<div class="abs" style="left:863px;top:321.8px;width:0.6px;height:12.4px;background:#7a9bff;"></div>
<div class="abs" style="left:848.3px;top:322px;height:12.4px;line-height:12.4px;font-size:8.2px;color:#fff;-webkit-text-stroke:0.2px #fff;">VIX</div>
<div class="abs" style="left:869.8px;top:322px;height:12.4px;line-height:12.4px;font-size:8.2px;color:#fff;-webkit-text-stroke:0.2px #fff;">33.63</div>

<!-- USD selector -->
<div class="abs" style="left:865.8px;top:65.2px;width:32.2px;height:18px;border:0.6px solid #eef0f5;border-radius:3px;background:#fff;box-sizing:border-box;"></div>
<div class="abs" style="left:868.8px;top:69px;font-size:9px;line-height:10px;color:#131722;transform:scaleX(0.78);transform-origin:0 0;">USD</div>
<svg class="abs" style="left:889.5px;top:71.5px" width="6" height="5" viewBox="0 0 6 5"><path d="M1 1.3 L3 3.3 L5 1.3" fill="none" stroke="#131722" stroke-width="0.9"/></svg>

<!-- header title box -->
<div id="title">
<svg class="abs" style="left:2px;top:1.5px" width="13" height="13" viewBox="0 0 13 13">
<defs><clipPath id="fc"><circle cx="6.5" cy="6.5" r="6.3"/></clipPath></defs>
<g clip-path="url(#fc)">
<rect width="13" height="13" fill="#fff"/>
<rect x="0" y="1.4" width="13" height="2.3" fill="#f7525f"/>
<rect x="0" y="5.4" width="13" height="2.3" fill="#f7525f"/>
<rect x="0" y="10" width="13" height="3" fill="#f7525f"/>
<rect x="0" y="0" width="7.9" height="7.7" fill="#2962ff"/>
<line x1="1" y1="2.2" x2="7.4" y2="2.2" stroke="#fff" stroke-opacity="0.45" stroke-width="0.6" stroke-dasharray="0.8 0.6"/>
<line x1="0.4" y1="4" x2="7.4" y2="4" stroke="#fff" stroke-opacity="0.45" stroke-width="0.6" stroke-dasharray="0.8 0.6"/>
<line x1="0.4" y1="5.9" x2="7.4" y2="5.9" stroke="#fff" stroke-opacity="0.45" stroke-width="0.6" stroke-dasharray="0.8 0.6"/>
</g>
</svg>
<div class="t">Volatility S&amp;P 500<span class="cj">指數</span><span class="sp"> · </span><span class="n1">1</span><span class="cj">週</span><span class="sp2"> · </span><span class="tv">TVC</span></div>
<div class="abs" style="left:193px;top:4.5px;width:8px;height:8px;background:#d1d4dc;"></div>
<svg class="abs" style="left:193px;top:4.5px" width="8" height="8" viewBox="0 0 8 8"><path d="M8 1.2 L5 4 L8 6.8 Z" fill="#fff"/></svg>
<svg class="abs" style="left:210.5px;top:6.5px" width="13" height="4" viewBox="0 0 13 4"><circle cx="1.7" cy="2" r="1.1" fill="#3c3f4a"/><circle cx="6.0" cy="2" r="1.1" fill="#3c3f4a"/><circle cx="10.3" cy="2" r="1.1" fill="#3c3f4a"/></svg>
</div>
<div class="abs" style="left:238px;top:68px;font-size:8.5px;line-height:12px;color:#2962ff;font-weight:400;-webkit-text-stroke:0.3px #2962ff;white-space:nowrap;letter-spacing:0.1px;">33.63&nbsp; −11.67 (−25.76%)</div>

<!-- sell / buy -->
<div class="box" style="left:4.7px;border-color:#f7a1a7;color:#f23645;"><b>33.63</b><span>賣出</span></div>
<div class="abs" style="left:49px;top:92px;font-size:7.3px;line-height:10px;color:#131722;">0.00</div>
<div class="box" style="left:67.7px;border-color:#90a8ff;color:#2962ff;"><b>33.63</b><span>買入</span></div>

<!-- indicator legend -->
<div class="abs" style="left:6.3px;top:114.8px;font-size:9px;letter-spacing:0.06px;line-height:12px;color:#131722;white-space:nowrap;">Tri-Star - <span style="letter-spacing:-0.41px">Bull SMA 50</span></div>
<svg class="abs" style="left:95px;top:114.2px" width="13" height="13" viewBox="0 0 13 13">
<circle cx="6.5" cy="6.5" r="6.3" fill="#ece8fb"/>
<path d="M3.1 6.2 A3.4 3.4 0 0 1 9.3 4.5" fill="none" stroke="#6a3de8" stroke-width="1.3"/>
<path d="M9.9 6.8 A3.4 3.4 0 0 1 3.7 8.5" fill="none" stroke="#6a3de8" stroke-width="1.3"/>
<path d="M10.6 3.2 L10.2 5.9 L7.8 4.7 Z" fill="#6a3de8"/>
<path d="M2.4 9.8 L2.8 7.1 L5.2 8.3 Z" fill="#6a3de8"/>
</svg>

<!-- collapse button -->
<div class="abs" style="left:4.3px;top:131px;width:19.7px;height:14px;border:0.6px solid #e6e8ee;border-radius:2.5px;background:#fff;box-sizing:border-box;"></div>
<svg class="abs" style="left:10px;top:135px" width="9" height="6" viewBox="0 0 9 6"><path d="M1.8 4.5 L4.4 1.9 L7.0 4.5" fill="none" stroke="#2a2e39" stroke-width="0.95"/></svg>

<!-- annotations -->
<div class="ann" style="left:93.2px;top:129.9px;">October 2008</div>
<div class="ann" style="left:634px;top:135.2px;">2020</div>
<div class="ann" style="left:742.4px;top:221.5px;">April 2025</div>

<!-- TradingView logo -->
<svg class="abs" style="left:8px;top:499px" width="22" height="11" viewBox="0 0 22 11">
<path d="M0.2 0.3 H9.6 V10.5 H4.7 V5.2 H0.2 Z" fill="#131722"/>
<circle cx="12.1" cy="2.2" r="1.9" fill="#131722"/>
<path d="M15.6 0.3 H20.9 L16.6 10.5 H11.3 Z" fill="#131722"/>
</svg>
<div class="abs" style="left:34.3px;top:496.2px;font-size:14.2px;line-height:16px;font-weight:700;color:#131722;white-space:nowrap;letter-spacing:0.05px;">TradingView</div>

<!-- bottom right controls -->
<svg class="abs" style="left:846.5px;top:502.5px" width="16" height="16" viewBox="0 0 16 16">
<circle cx="7.8" cy="7.8" r="6.7" fill="#fff" stroke="#9c27b0" stroke-width="1.15"/>
<path d="M9.6 3.4 L4.9 8.5 H7.7 L6.1 12.2 L10.8 7.0 H8.0 Z" fill="#9c27b0"/>
</svg>
<div class="abs" style="left:867px;top:502.5px;width:13.2px;height:14.2px;border:0.6px solid #eef0f5;border-radius:2.5px;box-sizing:border-box;background:#fff;"></div>
<div class="abs" style="left:884.5px;top:502.5px;width:12.8px;height:14.2px;border:0.6px solid #eef0f5;border-radius:2.5px;box-sizing:border-box;background:#fff;"></div>
<div class="abs" style="left:867px;top:504.5px;width:13.2px;text-align:center;font-size:9.6px;line-height:11px;color:#131722;-webkit-text-stroke:0.25px #131722;">A</div>
<div class="abs" style="left:884.5px;top:504.5px;width:12.8px;text-align:center;font-size:9.6px;line-height:11px;color:#131722;-webkit-text-stroke:0.25px #131722;">L</div>
<svg class="abs" style="left:876px;top:523.5px" width="13" height="13" viewBox="0 0 13 13">
<path d="M6.5 1.6 L10.75 4.05 V8.95 L6.5 11.4 L2.25 8.95 V4.05 Z" fill="none" stroke="#131722" stroke-width="0.95" stroke-linejoin="round" transform="rotate(30 6.5 6.5)"/>
<circle cx="6.5" cy="6.5" r="1.3" fill="none" stroke="#131722" stroke-width="0.9"/>
</svg>
</body>
</html>
